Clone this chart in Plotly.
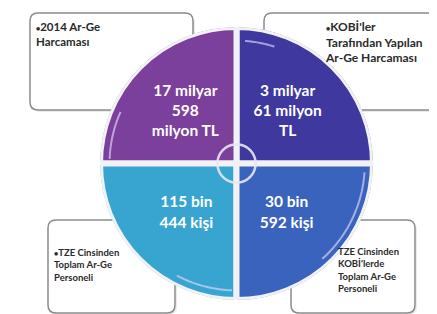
import plotly.graph_objects as go

# ---- data ----
quadrant_theta = [45, 135, 225, 315]          # top-right, top-left, bottom-left, bottom-right
quadrant_values = ["3 milyar<br>61 milyon<br>TL",
                   "17 milyar<br>598<br>milyon TL",
                   "115 bin<br>444 kişi",
                   "30 bin<br>592 kişi"]
bullet = "<span style='font-size:7px'>●</span>"
quadrant_labels = [bullet + "KOBİ'ler<br>Tarafından Yapılan<br>Ar-Ge Harcaması",
                   bullet + "2014 Ar-Ge<br>Harcaması",
                   bullet + "TZE Cinsinden<br>Toplam Ar-Ge<br>Personeli",
                   "TZE Cinsinden<br>KOBİ'lerde<br>Toplam Ar-Ge<br>Personeli"]
quadrant_colors = ["#3f389e", "#7b3f9c", "#38a5d0", "#3a63bd"]

W, H = 437, 314

fig = go.Figure()

# quadrants
fig.add_trace(go.Barpolar(
    r=[1, 1, 1, 1], theta=quadrant_theta, width=[90] * 4,
    marker=dict(color=quadrant_colors, line=dict(color="#f2f2f5", width=6)),
    hoverinfo="skip", showlegend=False, subplot="polar"))

# glossy highlights
for th0, th1, rr in [(156, 178, 0.93), (72, 86, 0.9), (242, 268, 0.93), (312, 356, 0.94)]:
    ths = [th0 + (th1 - th0) * i / 20 for i in range(21)]
    fig.add_trace(go.Scatterpolar(r=[rr] * 21, theta=ths, mode="lines",
                                  line=dict(color="rgba(225,215,255,0.65)", width=2),
                                  hoverinfo="skip", showlegend=False, subplot="polar"))

# values
fig.add_trace(go.Scatterpolar(
    r=[0.53, 0.53, 0.52, 0.52], theta=quadrant_theta, mode="text",
    text=["<b>%s</b>" % v for v in quadrant_values],
    textfont=dict(family="Lato, Open Sans, sans-serif", size=15.5, color="white"),
    textposition="middle center", hoverinfo="skip", showlegend=False, subplot="polar"))

# central ring
fig.add_trace(go.Scatterpolar(
    r=[0.14] * 73, theta=[i * 5 for i in range(73)], mode="lines",
    line=dict(color="rgba(232,228,242,0.9)", width=2.5),
    hoverinfo="skip", showlegend=False, subplot="polar"))

pad = 3
fig.update_layout(
    width=W, height=H, margin=dict(l=0, r=0, t=0, b=0),
    paper_bgcolor="white", plot_bgcolor="rgba(0,0,0,0)",
    xaxis=dict(visible=False), yaxis=dict(visible=False),
    polar=dict(
        domain=dict(x=[(95 - pad) / W, (362 + pad) / W],
                    y=[1 - (289 + pad) / H, 1 - (22 - pad) / H]),
        bgcolor="rgba(0,0,0,0)",
        radialaxis=dict(range=[0, 1], visible=False),
        angularaxis=dict(visible=False, direction="counterclockwise", rotation=0),
    ),
)

def px(x):
    return x / W

def py(y):
    return 1 - y / H

def rrect(x0, y0, x1, y1, r=8):
    pts = [("M", x0 + r, y0), ("L", x1 - r, y0), ("Q", x1, y0, x1, y0 + r),
           ("L", x1, y1 - r), ("Q", x1, y1, x1 - r, y1), ("L", x0 + r, y1),
           ("Q", x0, y1, x0, y1 - r), ("L", x0, y0 + r), ("Q", x0, y0, x0 + r, y0)]
    out = []
    for p in pts:
        cmd = p[0]
        coords = p[1:]
        s = " ".join(f"{px(coords[i]):.5f},{py(coords[i+1]):.5f}" for i in range(0, len(coords), 2))
        out.append(cmd + s)
    return " ".join(out) + " Z"

boxes = [(256, 5, 433, 102), (22, 5, 185, 102), (40, 212, 167, 305), (283, 212, 407, 305)]
label_pos = [(315, 9), (26, 10), (44, 237), (328, 236)]
label_sizes = [12, 11.5, 9.5, 9.5]

shapes = []
for (x0, y0, x1, y1) in boxes:
    shapes.append(dict(type="path", path=rrect(x0 + 2, y0 + 2, x1 + 2, y1 + 2),
                       xref="paper", yref="paper", layer="below",
                       fillcolor="rgba(0,0,0,0.08)", line=dict(width=0)))
    shapes.append(dict(type="path", path=rrect(x0, y0, x1, y1),
                       xref="paper", yref="paper", layer="below",
                       fillcolor="white", line=dict(color="#8c8c8c", width=1.5)))
fig.update_layout(shapes=shapes)

for lab, (lx, ly), fs in zip(quadrant_labels, label_pos, label_sizes):
    fig.add_annotation(x=px(lx), y=py(ly), xref="paper", yref="paper", text="<b>%s</b>" % lab,
                       showarrow=False, xanchor="left", yanchor="top", align="left",
                       font=dict(family="Lato, Open Sans, sans-serif", size=fs, color="#2a2a2a"))

fig.write_html("out.html")
